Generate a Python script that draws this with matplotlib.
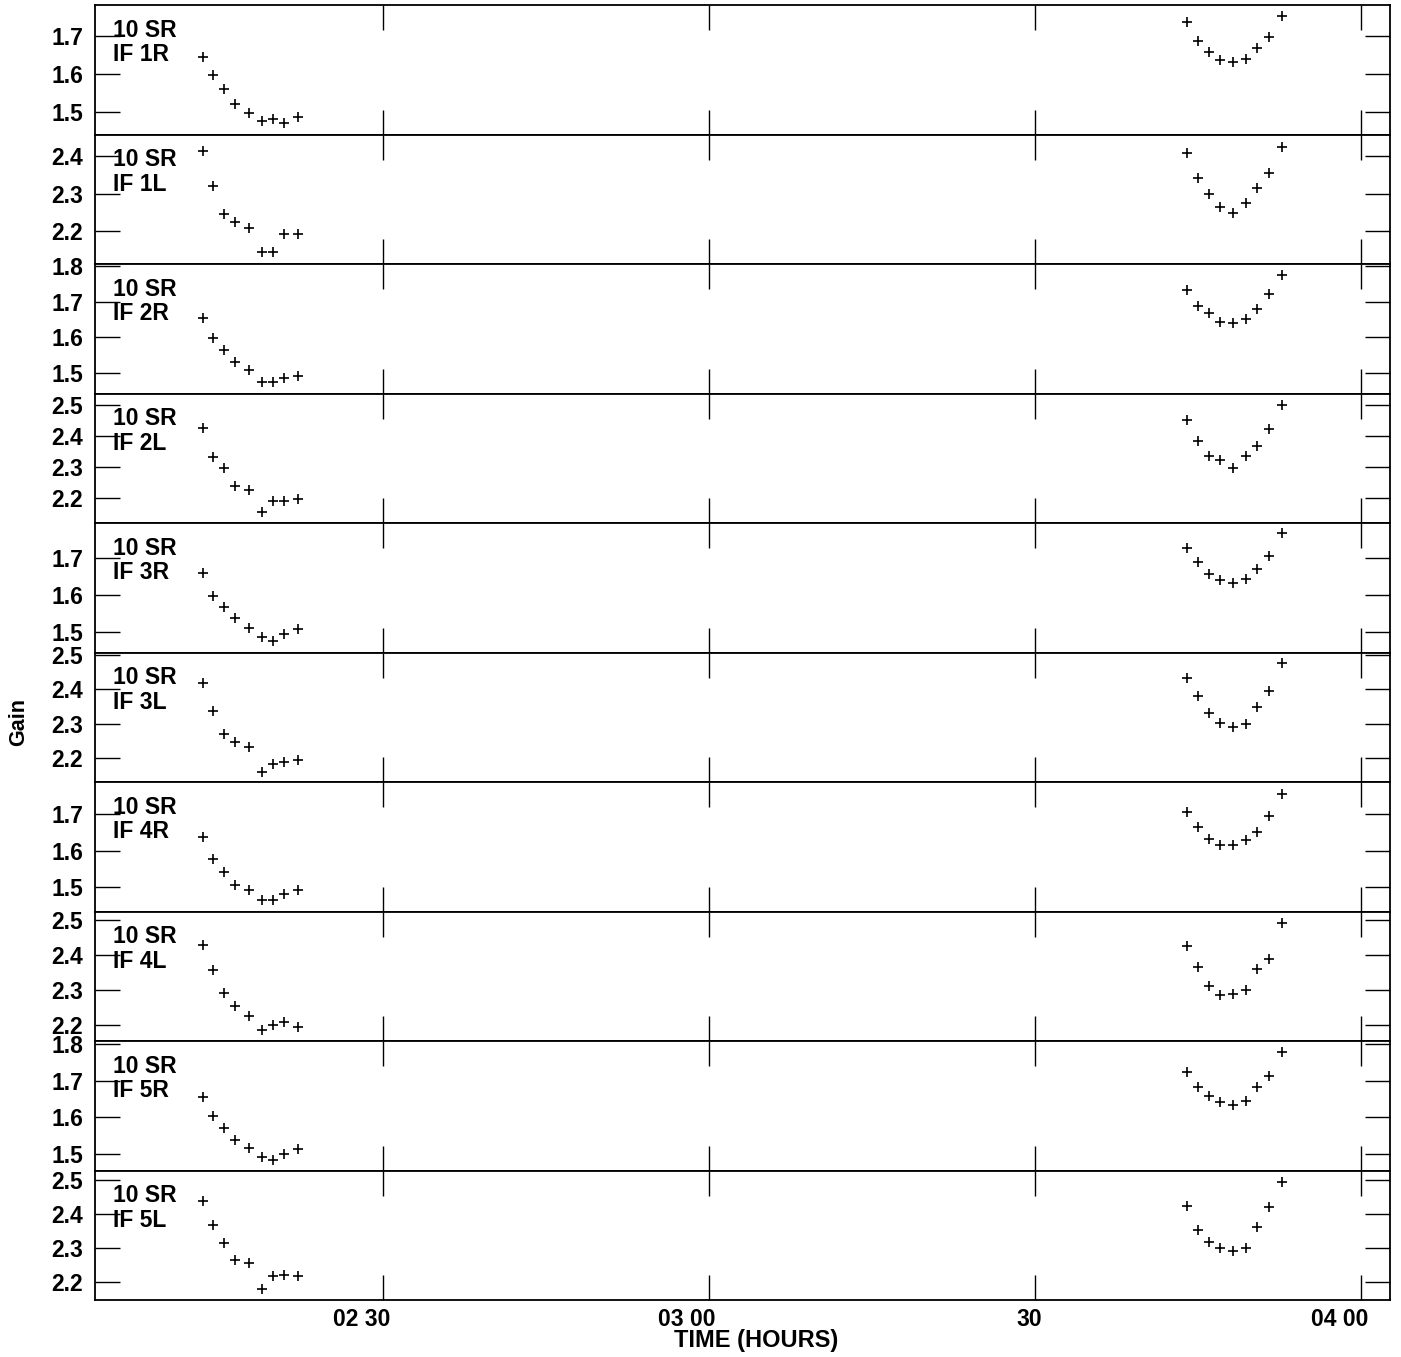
import numpy as np
import matplotlib
matplotlib.use("Agg")
import matplotlib.pyplot as plt
import matplotlib.transforms as mtransforms
from matplotlib.ticker import MultipleLocator

plt.rcParams["font.family"] = ["Liberation Sans", "DejaVu Sans"]
plt.rcParams["font.weight"] = "bold"

# times in minutes after 02:00
t_early = [13.41, 14.38, 15.40, 16.41, 17.67, 18.89, 19.91, 20.92, 22.15]
t_late = [103.99, 104.97, 105.99, 107.02, 108.25, 109.42, 110.46, 111.53, 112.70]

labels = ["IF 1R", "IF 1L", "IF 2R", "IF 2L", "IF 3R", "IF 3L", "IF 4R", "IF 4L", "IF 5R", "IF 5L"]
source = "10 SR"

gain_early = [
    [1.645, 1.597, 1.559, 1.521, 1.497, 1.476, 1.481, 1.470, 1.486],
    [2.412, 2.321, 2.245, 2.225, 2.210, 2.146, 2.145, 2.192, 2.192],
    [1.654, 1.599, 1.565, 1.531, 1.510, 1.476, 1.475, 1.487, 1.492],
    [2.427, 2.333, 2.295, 2.239, 2.224, 2.154, 2.191, 2.191, 2.198],
    [1.661, 1.599, 1.568, 1.537, 1.510, 1.487, 1.477, 1.496, 1.508],
    [2.417, 2.336, 2.271, 2.246, 2.233, 2.160, 2.181, 2.189, 2.194],
    [1.636, 1.576, 1.541, 1.506, 1.491, 1.464, 1.464, 1.481, 1.492],
    [2.429, 2.356, 2.293, 2.256, 2.227, 2.188, 2.201, 2.211, 2.197],
    [1.655, 1.602, 1.569, 1.537, 1.515, 1.492, 1.484, 1.500, 1.513],
    [2.439, 2.367, 2.316, 2.264, 2.258, 2.181, 2.217, 2.220, 2.219],
]
gain_late = [
    [1.737, 1.688, 1.657, 1.636, 1.632, 1.639, 1.668, 1.697, 1.753],
    [2.407, 2.342, 2.300, 2.264, 2.250, 2.276, 2.315, 2.355, 2.425],
    [1.733, 1.689, 1.668, 1.644, 1.640, 1.651, 1.679, 1.720, 1.774],
    [2.450, 2.385, 2.335, 2.321, 2.298, 2.334, 2.366, 2.421, 2.500],
    [1.727, 1.690, 1.656, 1.640, 1.634, 1.644, 1.671, 1.705, 1.768],
    [2.434, 2.379, 2.331, 2.302, 2.290, 2.300, 2.349, 2.396, 2.476],
    [1.705, 1.665, 1.633, 1.616, 1.616, 1.630, 1.651, 1.695, 1.755],
    [2.426, 2.367, 2.312, 2.286, 2.288, 2.300, 2.361, 2.387, 2.491],
    [1.724, 1.682, 1.657, 1.640, 1.632, 1.645, 1.682, 1.712, 1.777],
    [2.424, 2.353, 2.317, 2.302, 2.291, 2.300, 2.361, 2.420, 2.494],
]
ylims = [
    (1.439, 1.783), (2.1135, 2.457), (1.443, 1.805), (2.119, 2.537), (1.445, 1.795),
    (2.130, 2.507), (1.433, 1.788), (2.156, 2.523), (1.454, 1.808), (2.148, 2.528),
]

xticks = [2.5, 3.0, 3.5, 4.0]
xticklabels = ["02 30", "03 00", "30", "04 00"]

fig, axes = plt.subplots(10, 1, figsize=(14.01, 13.57), dpi=100, sharex=True)
fig.subplots_adjust(left=0.0678, right=0.9922, top=0.9963, bottom=0.042, hspace=0)

tx = 2.0 + (np.array(t_early + t_late)) / 60.0

for i, ax in enumerate(axes):
    g = gain_early[i] + gain_late[i]
    ax.plot(tx, g, linestyle="none", marker="+", color="black", markersize=7, markeredgewidth=1.2)
    ax.set_ylim(ylims[i])
    ax.set_xlim(2.0584, 4.0445)
    ax.yaxis.set_major_locator(MultipleLocator(0.1))
    ax.set_xticks(xticks)
    ax.tick_params(axis="both", which="major", direction="in", length=18, width=1.0,
                   top=True, right=True, labelsize=16.5)
    ax.tick_params(axis="y", pad=8.5)
    ax.tick_params(axis="x", labelbottom=(i == 9))
    for lab in ax.get_yticklabels():
        lab.set_fontweight("bold")
    for sp in ax.spines.values():
        sp.set_linewidth(1.3)
    ax.text(0.014, 0.807, source, transform=ax.transAxes, fontsize=16.5,
            fontweight="bold", va="center", ha="left")
    ax.text(0.014, 0.615, labels[i], transform=ax.transAxes, fontsize=16.5,
            fontweight="bold", va="center", ha="left")

axes[-1].set_xticklabels(xticklabels, fontweight="bold")
axes[-1].tick_params(axis="x", pad=6)
shift = mtransforms.ScaledTranslation(7 / 100, 0, fig.dpi_scale_trans)
for lab in axes[-1].get_xticklabels():
    lab.set_horizontalalignment("right")
    lab.set_transform(lab.get_transform() + shift)

fig.text(0.540, 0.0125, "TIME (HOURS)", ha="center", va="center", fontsize=17, fontweight="bold")
fig.text(0.013, 0.468, "Gain", ha="center", va="center", rotation=90, fontsize=15.5, fontweight="bold")

plt.savefig("out.png", dpi=100)
